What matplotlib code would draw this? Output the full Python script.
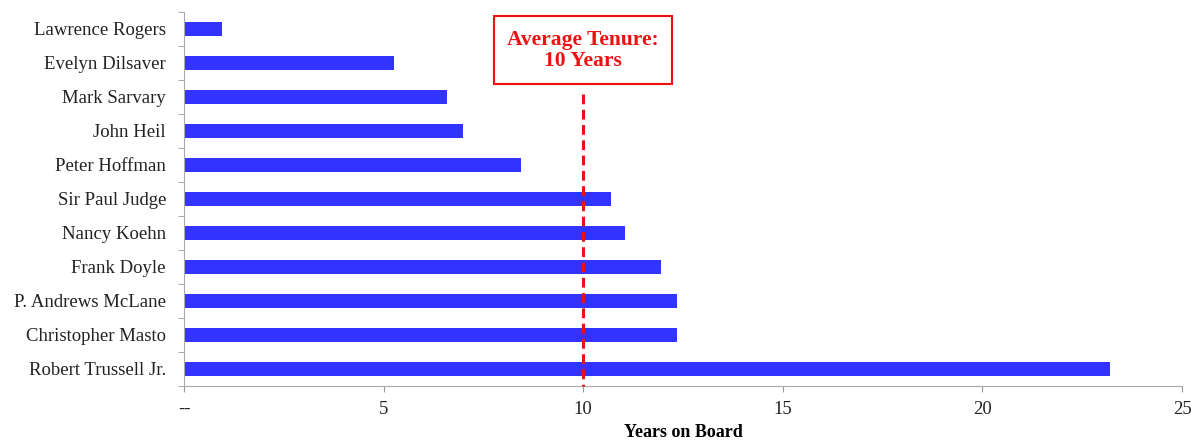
import matplotlib.pyplot as plt
import numpy as np

names = ["Lawrence Rogers", "Evelyn Dilsaver", "Mark Sarvary", "John Heil",
         "Peter Hoffman", "Sir Paul Judge", "Nancy Koehn", "Frank Doyle",
         "P. Andrews McLane", "Christopher Masto", "Robert Trussell Jr."]
years = [0.95, 5.25, 6.6, 7.0, 8.45, 10.7, 11.05, 11.95, 12.35, 12.35, 23.2]
avg_tenure = 10
xticks = [0, 5, 10, 15, 20, 25]
xtick_labels = ["--", "5", "10", "15", "20", "25"]

plt.rcParams['font.family'] = ['Liberation Serif', 'DejaVu Serif']

fig = plt.figure(figsize=(11.91, 4.43), dpi=100)
ax = fig.add_axes([0.1545, 0.129, 0.838, 0.844])

y = np.arange(len(names))
ax.barh(y, years, height=0.41, color="#3333ff")
ax.set_ylim(len(names) - 0.5, -0.5)
ax.set_xlim(0, 25)

ax.set_yticks(y)
ax.set_yticklabels(names, fontsize=13.5, color="#222222")
ax.set_yticks(np.arange(len(names) + 1) - 0.5, minor=True)
ax.tick_params(axis="y", which="major", length=0, pad=13)
ax.tick_params(axis="y", which="minor", length=4, color="#999999", direction="out")

ax.set_xticks(xticks)
ax.set_xticklabels(xtick_labels, fontsize=13.5, color="#222222")
ax.tick_params(axis="x", length=4, color="#999999", pad=7)
ax.set_xlabel("Years on Board", fontsize=13, fontweight="bold", labelpad=4)

for side in ["top", "right"]:
    ax.spines[side].set_visible(False)
for side in ["left", "bottom"]:
    ax.spines[side].set_color("#aaaaaa")

# average tenure line, starts just under the label box
ax.plot([avg_tenure, avg_tenure], [1.92, len(names) - 0.5], color="#ee1111",
        lw=2.2, ls=(0, (3.2, 1.8)), clip_on=False, zorder=3)

ax.text(avg_tenure, 0.63, "Average Tenure:\n10 Years", color="#ee1111", fontsize=15.5,
        fontweight="bold", ha="center", va="center", linespacing=1.1,
        bbox=dict(boxstyle="square,pad=0.62", fc="white", ec="#ee1111", lw=1.5))

plt.savefig("out.png", dpi=100)
plt.close()
